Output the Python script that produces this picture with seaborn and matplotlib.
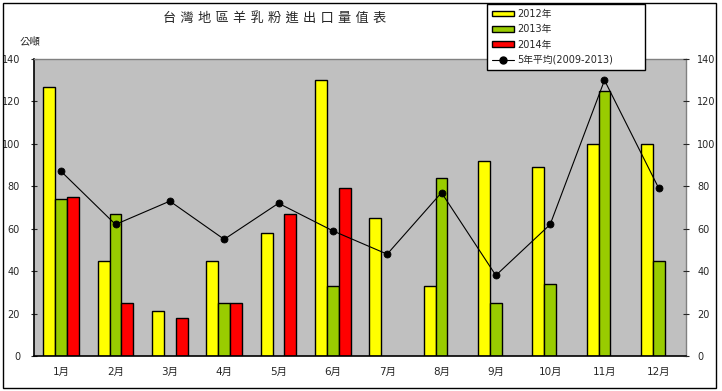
import numpy as np
import pandas as pd
import seaborn as sns
import matplotlib.pyplot as plt
from matplotlib.patches import Patch, Rectangle
from matplotlib.lines import Line2D

# datos (公噸)
months = ['1月', '2月', '3月', '4月', '5月', '6月', '7月', '8月', '9月', '10月', '11月', '12月']
years = ['2012年', '2013年', '2014年']
v2012 = [127, 45, 21, 45, 58, 130, 65, 33, 92, 89, 100, 100]
v2013 = [74, 67, np.nan, 25, np.nan, 33, np.nan, 84, 25, 34, 125, 45]
v2014 = [75, 25, 18, 25, 67, 79, np.nan, np.nan, np.nan, np.nan, np.nan, np.nan]
avg5 = [87, 62, 73, 55, 72, 59, 48, 77, 38, 62, 130, 79]
avg_label = '5年平均(2009-2013)'
title = '台灣地區羊乳粉進出口量值表'
colors = ['#FFFF00', '#99CC00', '#FF0000']

df = pd.DataFrame({
    'month': months * 3,
    'year': [years[0]] * 12 + [years[1]] * 12 + [years[2]] * 12,
    'value': v2012 + v2013 + v2014,
})

sns.set_style('white')
plt.rcParams['font.family'] = ['DejaVu Sans', 'Noto Sans CJK TC']

fig = plt.figure(figsize=(7.22, 3.91), dpi=100)
ax = fig.add_axes([34 / 722, 35 / 391, 652 / 722, 297 / 391])

sns.barplot(data=df, x='month', y='value', hue='year', hue_order=years,
            order=months, palette=colors, saturation=1, width=0.66,
            edgecolor='black', linewidth=1, errorbar=None, legend=False, ax=ax)
sns.pointplot(x=months, y=avg5, color='black', markers='o', markersize=5,
              linewidth=0.8, ax=ax)

ax.set_facecolor('#C0C0C0')
ax.set_xlim(-0.5, 11.5)
ax.set_ylim(0, 140)
ax.set_yticks(range(0, 141, 20))
ax.set_xlabel('')
ax.set_ylabel('')
ax.tick_params(axis='x', length=0, pad=8, labelsize=7.5)
ax.set_xticks(np.arange(0.5, 11, 1), minor=True)
ax.tick_params(axis='x', which='minor', direction='in', length=3, color='black')
ax.tick_params(axis='y', direction='inout', length=4, pad=8, labelsize=7, left=True)
for s in ['left', 'bottom']:
    ax.spines[s].set_color('black')
    ax.spines[s].set_linewidth(1.2)
for s in ['top', 'right']:
    ax.spines[s].set_color('#808080')
    ax.spines[s].set_linewidth(1)

ax2 = ax.twinx()
ax2.set_ylim(0, 140)
ax2.set_yticks(range(0, 141, 20))
ax2.tick_params(axis='y', direction='inout', length=4, pad=6, labelsize=7, right=True)
for s in ax2.spines.values():
    s.set_visible(False)

fig.text(275 / 722, 1 - 19 / 391, ' '.join(title), ha='center', va='center', fontsize=9.5)
fig.text(20 / 722, 1 - 41 / 391, '公噸', ha='left', va='center', fontsize=7.5)

handles = [Patch(facecolor=c, edgecolor='black', linewidth=1) for c in colors]
handles.append(Line2D([], [], color='black', marker='o', markersize=5, linewidth=0.8))
leg = fig.legend(handles, years + [avg_label], loc='upper left',
                 bbox_to_anchor=(487 / 722, 1 - 71 / 391, 158 / 722, 67 / 391),
                 mode='expand', fontsize=7, frameon=True, fancybox=False,
                 edgecolor='black', framealpha=1, borderpad=0.5, labelspacing=0.55,
                 handlelength=2.3, handleheight=0.5, handletextpad=0.3,
                 borderaxespad=0)
leg.get_frame().set_linewidth(1)

fig.patches.append(Rectangle((3 / 722, 3 / 391), 713 / 722, 385 / 391, fill=False,
                             edgecolor='black', linewidth=1, transform=fig.transFigure))

fig.savefig('out.png', dpi=100)
